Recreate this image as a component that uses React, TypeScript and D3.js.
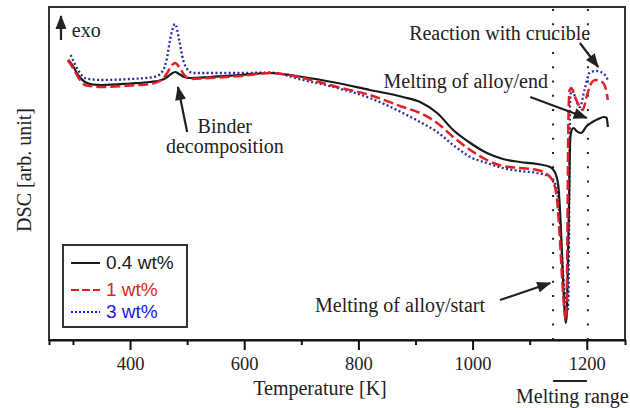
import React, { useEffect, useRef } from "react";
import * as d3 from "d3";

// DSC traces (temperature in K, signal in arb. units)
const tempLow = [292, 300, 310, 321, 335, 350, 400, 435, 455, 465, 472, 479, 486, 495, 505, 540, 593, 645, 703, 763, 820, 878, 908, 938, 966, 996, 1025, 1053, 1083, 1113, 1136, 1144, 1150, 1154, 1157, 1160, 1163, 1165, 1167, 1169, 1171, 1173, 1177, 1182, 1190, 1200, 1210, 1220, 1230, 1235, 1237];
const dscLow = [28.0, 27.4, 26.4, 25.8, 25.55, 25.5, 25.65, 25.8, 26.0, 26.3, 26.6, 26.8, 26.6, 26.3, 26.2, 26.3, 26.5, 26.7, 26.3, 25.7, 25.0, 24.3, 23.8, 22.7, 21.0, 19.7, 18.7, 18.1, 17.8, 17.6, 17.3, 16.8, 15.5, 12.0, 8.0, 4.0, 1.7, 2.5, 8.0, 14.0, 20.0, 20.9, 21.2, 20.9, 20.7, 21.4, 21.8, 22.1, 22.3, 22.2, 21.3];

const tempMid = [291, 300, 310, 321, 335, 350, 400, 435, 455, 465, 472, 479, 486, 495, 505, 540, 593, 645, 703, 763, 820, 878, 908, 938, 966, 996, 1025, 1053, 1083, 1113, 1132, 1142, 1148, 1153, 1157, 1160, 1163, 1165, 1166, 1167, 1168, 1170, 1173, 1178, 1185, 1193, 1200, 1208, 1215, 1227, 1233, 1237];
const dscMid = [28.0, 27.2, 26.2, 25.5, 25.35, 25.3, 25.45, 25.6, 26.0, 26.7, 27.4, 27.7, 27.3, 26.5, 26.1, 26.2, 26.4, 26.7, 26.2, 25.3, 24.5, 23.3, 22.7, 21.7, 20.3, 19.0, 18.0, 17.4, 17.2, 17.0, 16.5, 15.7, 14.0, 10.0, 6.0, 3.5, 2.0, 4.0, 10.0, 17.0, 22.5, 25.0, 25.2, 24.5, 23.6, 23.0, 24.4, 25.7, 26.0, 25.8, 25.2, 24.0];

const tempHigh = [296, 300, 310, 321, 335, 350, 400, 435, 447, 458, 464, 470, 479, 486, 493, 500, 510, 540, 593, 645, 703, 763, 820, 878, 908, 938, 966, 996, 1025, 1053, 1083, 1113, 1136, 1144, 1150, 1155, 1160, 1164, 1166, 1168, 1169, 1170, 1171, 1174, 1180, 1188, 1196, 1206, 1218, 1232, 1237];
const dscHigh = [28.5, 28.0, 26.9, 26.2, 26.05, 26.0, 26.1, 26.25, 26.4, 27.0, 28.0, 30.0, 31.6, 30.0, 28.0, 27.1, 26.7, 26.7, 26.7, 26.75, 26.0, 25.2, 24.2, 22.7, 21.8, 20.8, 19.5, 18.3, 17.7, 17.2, 16.9, 16.7, 16.3, 15.7, 14.0, 10.0, 5.5, 3.5, 2.8, 4.5, 11.0, 19.0, 24.0, 25.2, 24.2, 23.3, 25.0, 26.8, 26.9, 26.5, 26.0];

const seriesNames = ["0.4 wt%", "1 wt%", "3 wt%"];
const tickValues = [300, 400, 500, 600, 700, 800, 900, 1000, 1100, 1200];
const labelledTicks = [400, 600, 800, 1000, 1200];
const meltingRange = [1141, 1202];

const W = 630;
const H = 408;
const margin = { top: 7, right: 5, bottom: 68, left: 49 };
const serif = "'Liberation Serif', 'Times New Roman', serif";
const sans = "'Liberation Sans', Arial, sans-serif";

const App = () => {
  const svgRef = useRef<SVGSVGElement>(null);

  useEffect(() => {
    const svg = d3.select(svgRef.current);
    svg.selectAll("*").remove();

    const x = d3
      .scaleLinear()
      .domain([258, 1267])
      .range([margin.left, W - margin.right]);
    const y = d3
      .scaleLinear()
      .domain([0, 33.3])
      .range([H - margin.bottom, margin.top]);

    const defs = svg.append("defs");
    defs
      .append("marker")
      .attr("id", "head")
      .attr("markerUnits", "userSpaceOnUse")
      .attr("viewBox", "0 0 14 11")
      .attr("refX", 13)
      .attr("refY", 5.5)
      .attr("markerWidth", 15)
      .attr("markerHeight", 11)
      .attr("orient", "auto")
      .append("path")
      .attr("d", "M0,0 L14,5.5 L0,11 Z")
      .attr("fill", "#222");

    // frame
    svg
      .append("rect")
      .attr("x", margin.left)
      .attr("y", margin.top)
      .attr("width", W - margin.left - margin.right)
      .attr("height", H - margin.top - margin.bottom)
      .attr("fill", "none")
      .attr("stroke", "#333")
      .attr("stroke-width", 2);

    // melting range guides
    meltingRange.forEach((t) => {
      svg
        .append("line")
        .attr("x1", x(t))
        .attr("x2", x(t))
        .attr("y1", margin.top + 2)
        .attr("y2", H - margin.bottom - 1)
        .attr("stroke", "#222")
        .attr("stroke-width", 2)
        .attr("stroke-dasharray", "2 12.3");
    });

    // x axis
    const axis = d3
      .axisBottom(x)
      .tickValues(tickValues)
      .tickSize(5)
      .tickFormat((d) => (labelledTicks.includes(+d) ? String(d) : ""));
    const gx = svg
      .append("g")
      .attr("transform", `translate(0,${H - margin.bottom})`)
      .call(axis);
    gx.select(".domain").attr("stroke", "#111").attr("stroke-width", 2);
    gx.selectAll(".tick line")
      .attr("stroke", "#111")
      .attr("stroke-width", 2)
      .attr("y2", (d: any) => (labelledTicks.includes(d) ? 10 : 5));
    gx.selectAll(".tick text")
      .attr("y", 30)
      .attr("dy", 0)
      .attr("font-family", serif)
      .attr("font-size", 18.5)
      .attr("fill", "#222");

    svg
      .append("text")
      .attr("x", 320)
      .attr("y", 395)
      .attr("text-anchor", "middle")
      .attr("font-family", serif)
      .attr("font-size", 20)
      .attr("fill", "#222")
      .text("Temperature [K]");

    svg
      .append("text")
      .attr("transform", `translate(31,${170}) rotate(-90)`)
      .attr("text-anchor", "middle")
      .attr("font-family", serif)
      .attr("font-size", 20)
      .attr("fill", "#222")
      .text("DSC [arb. unit]");

    // melting range bar below the axis
    svg
      .append("line")
      .attr("x1", x(meltingRange[0]))
      .attr("x2", x(meltingRange[1]) - 1)
      .attr("y1", 381)
      .attr("y2", 381)
      .attr("stroke", "#222")
      .attr("stroke-width", 2);
    svg
      .append("text")
      .attr("x", 516)
      .attr("y", 403)
      .attr("font-family", serif)
      .attr("font-size", 20)
      .attr("fill", "#222")
      .text("Melting range");

    // curves
    const line = d3
      .line<[number, number]>()
      .x((d) => x(d[0]))
      .y((d) => y(d[1]))
      .curve(d3.curveMonotoneX);

    const curves = [
      { t: tempLow, v: dscLow, color: "#1a1a1a", dash: null, width: 2.2 },
      { t: tempMid, v: dscMid, color: "#e31e24", dash: "10 4", width: 2.5 },
      { t: tempHigh, v: dscHigh, color: "#2a2aa5", dash: "2 2.4", width: 2.3 },
    ];
    // dotted blue first so the others sit on top like in the figure
    [curves[2], curves[0], curves[1]].forEach((c) => {
      const pts = c.t.map((t, i) => [t, c.v[i]] as [number, number]);
      svg
        .append("path")
        .attr("d", line(pts))
        .attr("fill", "none")
        .attr("stroke", c.color)
        .attr("stroke-width", c.width)
        .attr("stroke-dasharray", c.dash)
        .attr("stroke-linejoin", "round");
    });

    // annotations
    const arrow = (t1: number, v1: number, t2: number, v2: number) => {
      svg
        .append("line")
        .attr("x1", x(t1))
        .attr("y1", y(v1))
        .attr("x2", x(t2))
        .attr("y2", y(v2))
        .attr("stroke", "#222")
        .attr("stroke-width", 2.2)
        .attr("marker-end", "url(#head)");
    };
    const label = (t: number, v: number, txt: string, anchor = "start") => {
      svg
        .append("text")
        .attr("x", x(t))
        .attr("y", y(v))
        .attr("text-anchor", anchor)
        .attr("font-family", serif)
        .attr("font-size", 20)
        .attr("fill", "#222")
        .text(txt);
    };

    arrow(279, 30.0, 279, 32.4);
    label(298, 30.3, "exo");

    arrow(500, 20.8, 484, 25.3);
    label(566, 20.7, "Binder", "middle");
    label(566, 18.7, "decomposition", "middle");

    arrow(1048, 4.0, 1136, 5.7);
    label(724, 2.8, "Melting of alloy/start");

    arrow(1101, 24.3, 1200, 22.2);
    label(1132, 25.2, "Melting of alloy/end", "end");

    arrow(1188, 29.7, 1220, 27.3);
    label(1206, 30.0, "Reaction with crucible", "end");

    // legend
    const lg = svg.append("g");
    lg.append("rect")
      .attr("x", 63)
      .attr("y", 245)
      .attr("width", 124)
      .attr("height", 82)
      .attr("fill", "#fff")
      .attr("stroke", "#333")
      .attr("stroke-width", 2);
    const legendColors = ["#1a1a1a", "#e31e24", "#1515ee"];
    const legendDash = [null, "8 3", "2 2"];
    const legendY = [263, 290, 312];
    seriesNames.forEach((name, i) => {
      lg.append("line")
        .attr("x1", 71)
        .attr("x2", 100)
        .attr("y1", legendY[i])
        .attr("y2", legendY[i])
        .attr("stroke", legendColors[i])
        .attr("stroke-width", 2)
        .attr("stroke-dasharray", legendDash[i]);
      lg.append("text")
        .attr("x", 106)
        .attr("y", legendY[i] + 6)
        .attr("font-family", sans)
        .attr("font-size", 19)
        .attr("fill", legendColors[i])
        .text(name);
    });
  }, []);

  return (
    <svg
      ref={svgRef}
      width={W}
      height={H}
      style={{ position: "absolute", left: 0, top: 0, background: "#fff" }}
    />
  );
};

export default App;
